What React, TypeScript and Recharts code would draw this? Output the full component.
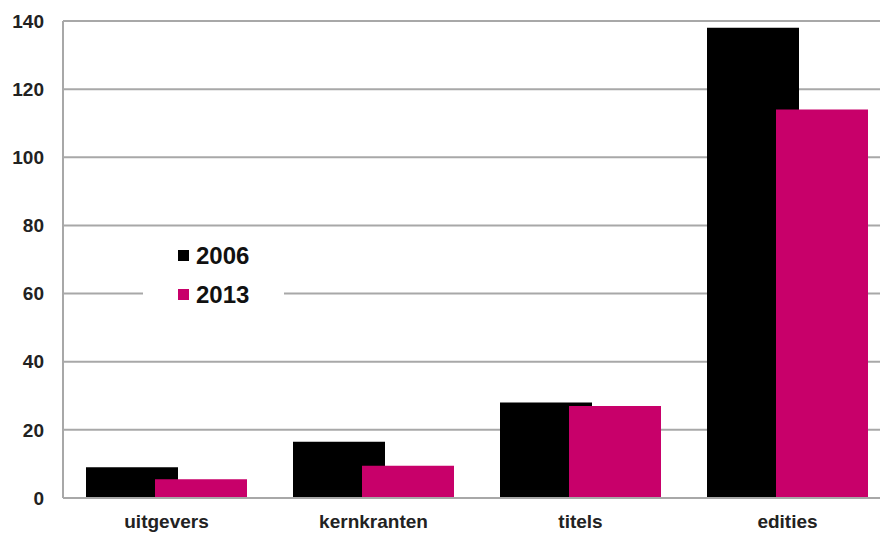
import React from 'react';
import { BarChart, Bar, XAxis, YAxis, CartesianGrid } from 'recharts';

const categories = ['uitgevers', 'kernkranten', 'titels', 'edities'];
const values2006 = [9, 16.5, 28, 138];
const values2013 = [5.5, 9.5, 27, 114];
const yTicks = [0, 20, 40, 60, 80, 100, 120, 140];

const series = [
  { key: 'y2006', name: '2006', color: '#000000' },
  { key: 'y2013', name: '2013', color: '#C8006A' },
];

const data = categories.map((c, i) => ({
  name: c,
  y2006: values2006[i],
  y2013: values2013[i],
}));

const FONT = '"Liberation Sans", Arial, sans-serif';

// legend sits on a white box that hides the grid lines behind it
const LegendBox = () => (
  <div
    style={{
      position: 'absolute',
      left: 143,
      top: 236,
      background: '#fff',
      width: 141,
      height: 76,
      boxSizing: 'border-box',
      fontFamily: FONT,
    }}
  >
    {series.map((s) => (
      <div
        key={s.key}
        style={{ display: 'flex', alignItems: 'center', height: 39, paddingLeft: 35 }}
      >
        <span
          style={{ width: 11, height: 11, background: s.color, display: 'inline-block', marginRight: 7 }}
        />
        <span style={{ fontSize: 24, fontWeight: 700, color: '#111' }}>{s.name}</span>
      </div>
    ))}
  </div>
);

export default function App() {
  return (
    <div
      style={{
        position: 'absolute',
        left: 0,
        top: 0,
        width: 880,
        height: 534,
        overflow: 'hidden',
        background: '#fff',
      }}
    >
      <BarChart
        width={900}
        height={534}
        data={data}
        margin={{ top: 21, right: 9, bottom: 0, left: 0 }}
        barSize={92}
        barGap={-23}
      >
        <CartesianGrid horizontal vertical={false} stroke="#A8A8A8" strokeWidth={2} />
        <XAxis
          dataKey="name"
          height={36}
          axisLine={{ stroke: '#A8A8A8', strokeWidth: 2 }}
          tickLine={false}
          tickSize={0}
          tickMargin={17}
          tick={{ fontSize: 19, fontWeight: 700, fill: '#222', fontFamily: FONT }}
        />
        <YAxis
          width={63}
          domain={[0, 140]}
          ticks={yTicks}
          interval={0}
          axisLine={{ stroke: '#A8A8A8', strokeWidth: 2 }}
          tickLine={false}
          tickSize={0}
          tickMargin={19}
          tick={{ fontSize: 19, fontWeight: 700, fill: '#222', fontFamily: FONT }}
        />
        {series.map((s) => (
          <Bar key={s.key} dataKey={s.key} name={s.name} fill={s.color} isAnimationActive={false} />
        ))}
      </BarChart>
      <LegendBox />
    </div>
  );
}
